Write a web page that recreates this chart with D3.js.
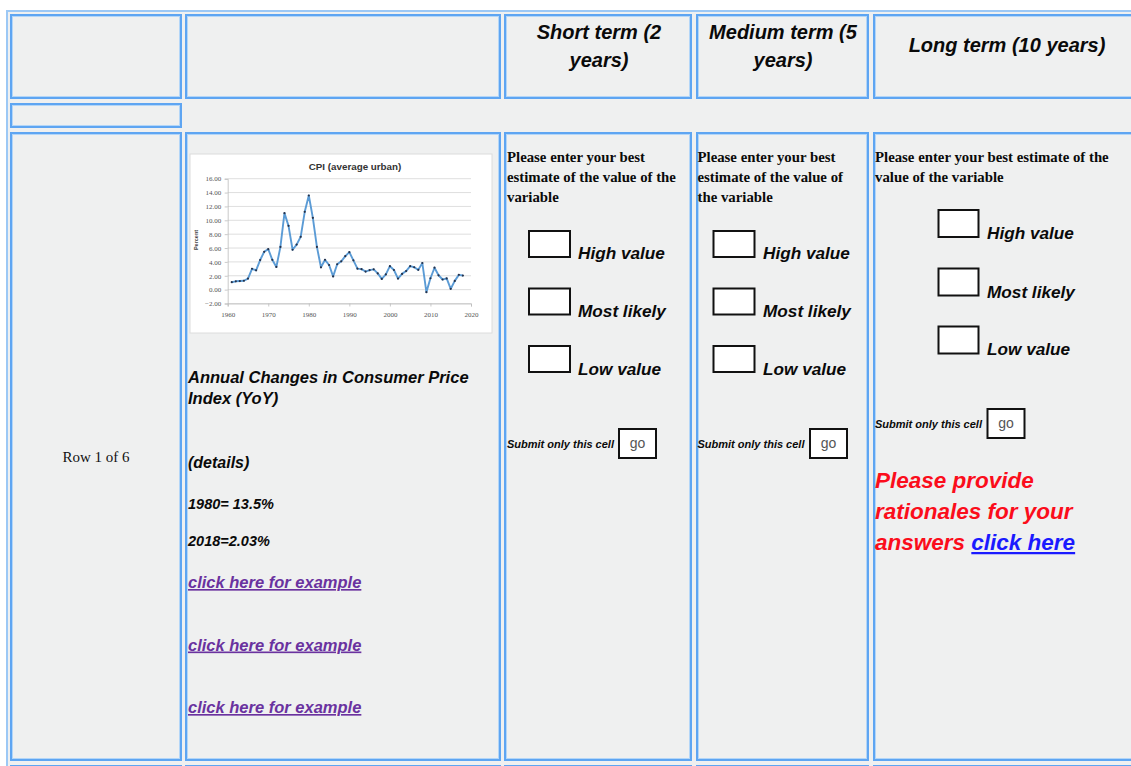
<!DOCTYPE html>
<html>
<head>
<meta charset="utf-8">
<script src="https://cdn.jsdelivr.net/npm/d3@7"></script>
<style>
  html, body { margin: 0; padding: 0; background: #fff; overflow: hidden; }
  svg { display: block; }
  .sans { font-family: "Liberation Sans", Arial, sans-serif; }
  .serif { font-family: "Liberation Serif", "Times New Roman", serif; }
</style>
</head>
<body>
<div id="page"></div>
<script>
// CPI-U annual changes
let cpiYears = [1961, 1962, 1963, 1964, 1965, 1966, 1967, 1968, 1969, 1970,
    1971, 1972, 1973, 1974, 1975, 1976, 1977, 1978, 1979, 1980,
    1981, 1982, 1983, 1984, 1985, 1986, 1987, 1988, 1989, 1990,
    1991, 1992, 1993, 1994, 1995, 1996, 1997, 1998, 1999, 2000,
    2001, 2002, 2003, 2004, 2005, 2006, 2007, 2008, 2009, 2010,
    2011, 2012, 2013, 2014, 2015, 2016, 2017, 2018];
let cpiValues = [1.07, 1.20, 1.24, 1.28, 1.59, 3.01, 2.78, 4.27, 5.46, 5.84,
    4.30, 3.27, 6.16, 11.03, 9.20, 5.75, 6.50, 7.62, 11.22, 13.58,
    10.35, 6.16, 3.22, 4.30, 3.55, 1.91, 3.66, 4.08, 4.83, 5.40,
    4.23, 3.03, 2.95, 2.61, 2.81, 2.93, 2.34, 1.55, 2.19, 3.38,
    2.83, 1.59, 2.27, 2.68, 3.39, 3.23, 2.85, 3.84, -0.36, 1.64,
    3.16, 2.07, 1.46, 1.62, 0.12, 1.26, 2.13, 2.03];
let yTicks = [-2, 0, 2, 4, 6, 8, 10, 12, 14, 16];
let xTicks = [1960, 1970, 1980, 1990, 2000, 2010, 2020];
let chartTitle = "CPI (average urban)";
let yLabel = "Percent";

let headers = [["", ""], ["", ""], ["Short term (2", "years)"], ["Medium term (5", "years)"], ["Long term (10 years)"]];
let rowLabel = "Row 1 of 6";
let varTitle = ["Annual Changes in Consumer Price", "Index (YoY)"];
let details = "(details)";
let facts = ["1980= 13.5%", "2018=2.03%"];
let exampleLinks = ["click here for example", "click here for example", "click here for example"];
let promptLines = [
    ["Please enter your best", "estimate of the value of the", "variable"],
    ["Please enter your best", "estimate of the value of", "the variable"],
    ["Please enter your best estimate of the", "value of the variable"]
];
let estimateLabels = ["High value", "Most likely", "Low value"];
let submitText = "Submit only this cell";
let goText = "go";
let rationale = ["Please provide", "rationales for your", "answers "];
let rationaleLink = "click here";

// layout
const W = 1131, H = 766;
const colX = [10, 185, 504, 696, 873];
const colW = [172, 316, 188, 173, 280];
const rowY = [14, 103, 132, 765];
const rowH = [85, 25, 629, 40];
const cellStroke = "#5ea5f2";
const bg = "#eff0f0";

const svg = d3.select("#page").append("svg")
    .attr("width", W)
    .attr("height", H);

// table background + outer border
svg.append("rect")
    .attr("x", 7).attr("y", 11)
    .attr("width", W).attr("height", H)
    .attr("fill", bg)
    .attr("stroke", "#9cc8f5")
    .attr("stroke-width", 2);

function cell(x, y, w, h) {
    svg.append("rect")
        .attr("x", x + 1).attr("y", y + 1)
        .attr("width", w - 2).attr("height", h - 2)
        .attr("fill", bg)
        .attr("stroke", cellStroke)
        .attr("stroke-width", 2);
    svg.append("rect")
        .attr("x", x + 2.5).attr("y", y + 2.5)
        .attr("width", w - 5).attr("height", h - 5)
        .attr("fill", "none")
        .attr("stroke", "#b3d6f8")
        .attr("stroke-width", 1);
}

// header row, small second row, content row, start of next row
colX.forEach((x, i) => cell(x, rowY[0], colW[i], rowH[0]));
cell(colX[0], rowY[1], colW[0], rowH[1]);
colX.forEach((x, i) => cell(x, rowY[2], colW[i], rowH[2]));
colX.forEach((x, i) => cell(x, rowY[3], colW[i], rowH[3]));

// header titles
const headBase = [[38.7, 67], [38.7, 67], [38.7, 67], [38.7, 67], [52]];
const headCx = [96, 343, 599, 783, 1007];
headers.forEach((lines, i) => {
    lines.forEach((t, j) => {
        if (!t) return;
        svg.append("text")
            .attr("class", "sans")
            .attr("x", headCx[i]).attr("y", headBase[i][j])
            .attr("text-anchor", "middle")
            .attr("font-size", 20).attr("font-weight", "bold").attr("font-style", "italic")
            .attr("fill", "#0a0a0a")
            .text(t);
    });
});

// row label
svg.append("text")
    .attr("class", "serif")
    .attr("x", 96).attr("y", 462)
    .attr("text-anchor", "middle")
    .attr("font-size", 15)
    .attr("fill", "#111")
    .text(rowLabel);

// ---------- the small CPI chart ----------
const img = {x: 190, y: 154, w: 302, h: 179};
svg.append("rect")
    .attr("x", img.x).attr("y", img.y)
    .attr("width", img.w).attr("height", img.h)
    .attr("fill", "#fff")
    .attr("stroke", "#dcdcdc")
    .attr("stroke-width", 1);

const x = d3.scaleLinear().domain([1960, 2020]).range([227.7, 471]);
const y = d3.scaleLinear().domain([-2, 16]).range([303.5, 178.7]);

const chart = svg.append("g");

chart.append("g")
    .selectAll("line")
    .data(yTicks)
    .join("line")
    .attr("x1", x(1960)).attr("x2", x(2020))
    .attr("y1", d => y(d)).attr("y2", d => y(d))
    .attr("stroke", "#d6d6d6")
    .attr("stroke-width", 0.8);

const yAxis = chart.append("g")
    .attr("transform", "translate(" + x(1960) + ",0)")
    .call(d3.axisLeft(y).tickValues(yTicks).tickSize(3).tickPadding(3.5).tickFormat(d3.format(".2f")));
const xAxis = chart.append("g")
    .attr("transform", "translate(0," + y(-2) + ")")
    .call(d3.axisBottom(x).tickValues(xTicks).tickSize(3).tickPadding(6).tickFormat(d3.format("d")));

[yAxis, xAxis].forEach(a => {
    a.select(".domain").attr("stroke", "#bdbdbd").attr("stroke-width", 0.8);
    a.selectAll(".tick line").attr("stroke", "#bdbdbd").attr("stroke-width", 0.8);
    a.selectAll(".tick text")
        .attr("fill", "#555")
        .attr("font-size", 7)
        .attr("font-family", "\"Liberation Serif\", serif");
});

chart.append("text")
    .attr("class", "sans")
    .attr("x", 355).attr("y", 169.5)
    .attr("text-anchor", "middle")
    .attr("font-size", 9.8).attr("font-weight", "bold")
    .attr("fill", "#333")
    .text(chartTitle);

chart.append("text")
    .attr("class", "sans")
    .attr("transform", "translate(198,240) rotate(-90)")
    .attr("text-anchor", "middle")
    .attr("font-size", 5.5).attr("font-weight", "bold")
    .attr("fill", "#444")
    .text(yLabel);

const cpi = cpiYears.map((yr, i) => ({year: yr, value: cpiValues[i]}));

chart.append("path")
    .datum(cpi)
    .attr("fill", "none")
    .attr("stroke", "#5b9bd5")
    .attr("stroke-width", 1.9)
    .attr("stroke-linejoin", "round")
    .attr("d", d3.line().x(d => x(d.year)).y(d => y(d.value)));

chart.append("g")
    .selectAll("circle")
    .data(cpi)
    .join("circle")
    .attr("cx", d => x(d.year)).attr("cy", d => y(d.value))
    .attr("r", 1.1)
    .attr("fill", "#26324a");

// ---------- variable description ----------
function bi(sel, size) {
    return sel.attr("class", "sans")
        .attr("font-size", size).attr("font-weight", "bold").attr("font-style", "italic");
}

varTitle.forEach((t, i) => {
    bi(svg.append("text"), 16.5)
        .attr("x", 188).attr("y", [382.5, 404][i])
        .attr("fill", "#0a0a0a")
        .text(t);
});
bi(svg.append("text"), 16)
    .attr("x", 188).attr("y", 468)
    .attr("fill", "#0a0a0a")
    .text(details);
facts.forEach((t, i) => {
    bi(svg.append("text"), 14.5)
        .attr("x", 188).attr("y", [509, 546][i])
        .attr("fill", "#0a0a0a")
        .text(t);
});
exampleLinks.forEach((t, i) => {
    bi(svg.append("text"), 16.5)
        .attr("x", 188).attr("y", [588, 650.5, 713][i])
        .attr("fill", "#6a329f")
        .attr("text-decoration", "underline")
        .text(t);
});

// ---------- estimate columns ----------
const est = [
    {tx: 507, lineY: [161.5, 181.5, 202], boxX: 529, boxY: [231, 288.5, 346], boxW: 41, boxH: 26, labX: 578, labY: [259, 317, 375], subY: 448, goX: 619, goY: 429, goW: 37, goH: 29},
    {tx: 697.5, lineY: [161.5, 181.5, 202], boxX: 713.5, boxY: [231, 288.5, 346], boxW: 41, boxH: 26, labX: 763, labY: [259, 317, 375], subY: 448, goX: 810, goY: 429, goW: 37, goH: 29},
    {tx: 875, lineY: [161.5, 181.5], boxX: 938.5, boxY: [210, 268.5, 326.5], boxW: 40, boxH: 27, labX: 987, labY: [239, 297.5, 355], subY: 428, goX: 987.5, goY: 409, goW: 37, goH: 29}
];

est.forEach((c, k) => {
    promptLines[k].forEach((t, j) => {
        svg.append("text")
            .attr("class", "serif")
            .attr("x", c.tx).attr("y", c.lineY[j])
            .attr("font-size", 14.8).attr("font-weight", "bold")
            .attr("fill", "#0a0a0a")
            .text(t);
    });
    estimateLabels.forEach((t, j) => {
        svg.append("rect")
            .attr("x", c.boxX).attr("y", c.boxY[j])
            .attr("width", c.boxW).attr("height", c.boxH)
            .attr("fill", "#fff")
            .attr("stroke", "#111")
            .attr("stroke-width", 2);
        bi(svg.append("text"), 17.2)
            .attr("x", c.labX).attr("y", c.labY[j])
            .attr("fill", "#0a0a0a")
            .text(t);
    });
    bi(svg.append("text"), 11)
        .attr("x", c.tx).attr("y", c.subY)
        .attr("fill", "#0a0a0a")
        .text(submitText);
    svg.append("rect")
        .attr("x", c.goX).attr("y", c.goY)
        .attr("width", c.goW).attr("height", c.goH)
        .attr("fill", "#fff")
        .attr("stroke", "#111")
        .attr("stroke-width", 2);
    svg.append("text")
        .attr("class", "sans")
        .attr("x", c.goX + c.goW / 2).attr("y", c.goY + c.goH / 2 + 4)
        .attr("text-anchor", "middle")
        .attr("font-size", 14)
        .attr("fill", "#555")
        .text(goText);
});

// rationale request
rationale.forEach((t, i) => {
    const tx = bi(svg.append("text"), 22.5)
        .attr("x", 875).attr("y", [488, 519, 550][i])
        .attr("fill", "#fb0d1b");
    tx.append("tspan").text(t);
    if (i === rationale.length - 1) {
        tx.append("tspan")
            .attr("fill", "#1a1aff")
            .attr("text-decoration", "underline")
            .text(rationaleLink);
    }
});
</script>
</body>
</html>
